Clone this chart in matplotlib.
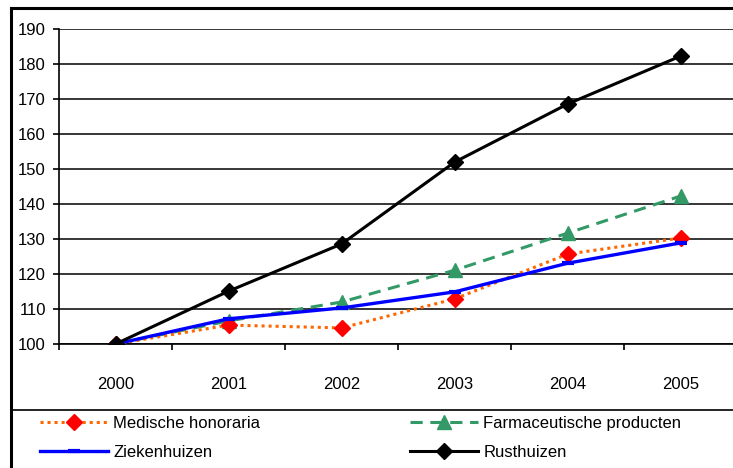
import matplotlib
matplotlib.use("Agg")
import matplotlib.pyplot as plt
from matplotlib.lines import Line2D

plt.rcParams['font.family'] = ['Liberation Sans', 'DejaVu Sans']

years = ['2000', '2001', '2002', '2003', '2004', '2005']
medische = [100, 105.4, 104.6, 112.9, 125.7, 130.3]
farmaceutisch = [100, 106.6, 112.0, 121.1, 131.7, 142.3]
ziekenhuizen = [100, 107.2, 110.3, 114.9, 123.1, 128.9]
rusthuizen = [100, 115.1, 128.6, 152.0, 168.6, 182.3]
y_ticks = list(range(100, 191, 10))

W, H = 733, 468
fig = plt.figure(figsize=(W / 100, H / 100), dpi=100)

# plot region in pixel terms
L, R, T, B = 59, 737.5, 29, 344
ax = fig.add_axes([L / W, 1 - B / H, (R - L) / W, (B - T) / H])

x = list(range(len(years)))
h_med, = ax.plot(x, medische, color='#FF6600', lw=2.2, ls=(0, (1, 1.3)),
                 marker='D', ms=8.5, mfc='#FF0000', mec='#FF0000', zorder=4,
                 label='Medische honoraria')
h_farm, = ax.plot(x, farmaceutisch, color='#339966', lw=2.2, ls=(0, (4, 2.5)),
                  marker='^', ms=9.5, mfc='#339966', mec='#339966', zorder=3,
                  label='Farmaceutische producten')
h_zie, = ax.plot(x, ziekenhuizen, color='#0000FF', lw=2.4,
                 marker='_', ms=9, mew=3, mec='#0000FF', zorder=5,
                 label='Ziekenhuizen')
h_rust, = ax.plot(x, rusthuizen, color='#000000', lw=2.2,
                  marker='D', ms=8.5, mfc='#000000', mec='#000000', zorder=6,
                  label='Rusthuizen')

ax.set_xlim(-0.5, len(years) - 0.5)
ax.set_ylim(100, 190)
ax.set_yticks(y_ticks)
ax.set_xticks(x)
ax.set_xticklabels(years)
ax.set_xticks([i - 0.5 for i in range(len(years) + 1)], minor=True)
ax.tick_params(axis='x', which='major', length=0, pad=24, labelsize=12)
ax.tick_params(axis='x', which='minor', length=4.5, width=1.2, direction='out')
ax.tick_params(axis='y', length=4.5, width=1.2, direction='out', pad=5, labelsize=12)
ax.yaxis.grid(True, color='#000000', lw=1.1)
ax.set_axisbelow(True)
for s in ['top', 'right']:
    ax.spines[s].set_visible(False)
for s in ['left', 'bottom']:
    ax.spines[s].set_linewidth(1.2)
ax.spines['left'].set_bounds(100, 190)

# outer frame and legend separator
fig.add_artist(Line2D([11 / W, 1], [1 - 8 / H, 1 - 8 / H], color='black', lw=2.2))
fig.add_artist(Line2D([11 / W, 11 / W], [0, 1 - 8 / H], color='black', lw=2.2))
fig.add_artist(Line2D([11 / W, 1], [1 - 410 / H, 1 - 410 / H], color='black', lw=1.2))

legend_kw = dict(loc='upper left', frameon=False, fontsize=12,
                 handlelength=4.1, handletextpad=0.3, labelspacing=0.85,
                 borderpad=0, borderaxespad=0)
fig.legend(handles=[h_med, h_zie], bbox_to_anchor=(40 / W, 1 - 416 / H), **legend_kw)
fig.legend(handles=[h_farm, h_rust], bbox_to_anchor=(410 / W, 1 - 416 / H), **legend_kw)

fig.savefig('out.png', dpi=100)
